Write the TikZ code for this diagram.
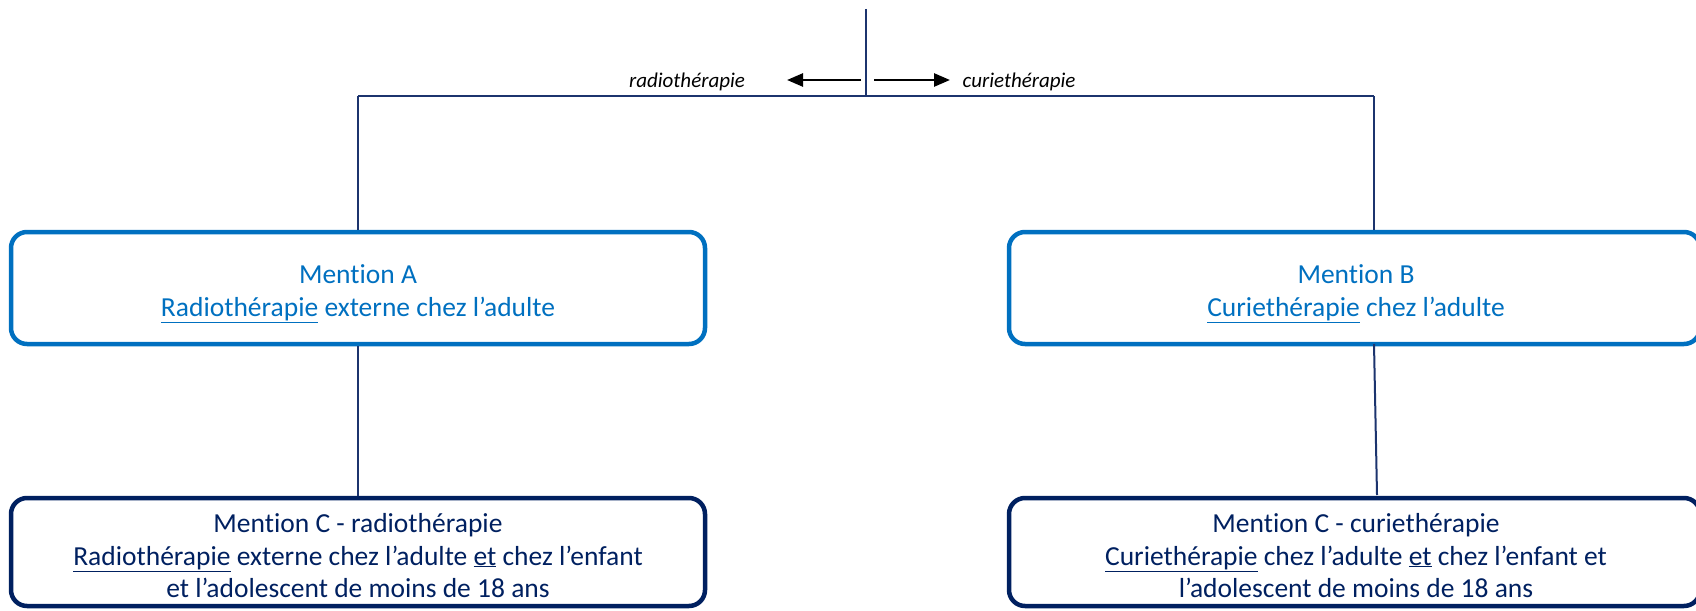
\documentclass[tikz,border=0pt]{standalone}
\usepackage{fontspec}
\setmainfont{Carlito}[Ligatures={NoCommon}]
\usetikzlibrary{arrows.meta,calc}
\definecolor{mblue}{RGB}{0,112,192}
\definecolor{mnavy}{RGB}{0,32,96}
\definecolor{lnavy}{RGB}{28,52,110}
\begin{document}
\begin{tikzpicture}[x=1pt,y=-1pt,
  boxA/.style={draw=mblue,line width=4.5pt,rounded corners=16pt,inner sep=0pt},
  boxC/.style={draw=mnavy,line width=4.5pt,rounded corners=16pt,inner sep=0pt},
  conn/.style={draw=lnavy,line width=2pt},
  arr/.style={draw=black,line width=2.6pt,-{Triangle[length=16pt,width=13pt]}},
  lbl/.style={font=\fontsize{21}{25}\selectfont\itshape,text=black,inner sep=0pt,anchor=base},
  txtA/.style={font=\fontsize{27.5}{33}\selectfont,text=mblue,inner sep=0pt,anchor=base},
  txtC/.style={font=\fontsize{27.5}{33}\selectfont,text=mnavy,inner sep=0pt,anchor=base}]
\useasboundingbox (0,0) rectangle (1696,610);
% boxes
\node[boxA,minimum width=694pt,minimum height=112pt] (A) at (358,288) {};
\node[boxA,minimum width=691pt,minimum height=112pt] (B) at (1354.5,288) {};
\node[boxC,minimum width=694pt,minimum height=108pt] (C) at (358,552) {};
\node[boxC,minimum width=691pt,minimum height=108pt] (D) at (1354.5,552) {};
% texts
\node[txtA] (tA1) at (358,283) {Mention A};
\node[txtA] (tA2) at (358,316) {\underline{Radiothérapie} externe chez l’adulte};
\node[txtA] (tB1) at (1356,283) {Mention B};
\node[txtA] (tB2) at (1356,316) {\underline{Curiethérapie} chez l’adulte};
\node[txtC] (tC1) at (358,532) {Mention C - radiothérapie};
\node[txtC] (tC2) at (358,565) {\underline{Radiothérapie} externe chez l’adulte \underline{et} chez l’enfant};
\node[txtC] (tC3) at (358,597) {et l’adolescent de moins de 18 ans};
\node[txtC] (tD1) at (1356,532) {Mention C - curiethérapie};
\node[txtC] (tD2) at (1356,565) {\underline{Curiethérapie} chez l’adulte \underline{et} chez l’enfant et};
\node[txtC] (tD3) at (1356,597) {l’adolescent de moins de 18 ans};
% connectors
\coordinate (top) at (866,9);
\coordinate (jn) at (866,96);
\coordinate (hl) at (358,96);
\coordinate (hr) at (1374,96);
\coordinate (bs) at (1374,344);
\coordinate (dn) at (1377,495);
\draw[conn] (top) -- (jn);
\draw[conn] (hl) -- (hr);
\draw[conn] (hl) -- (A.north);
\draw[conn] (hr) -- (hr |- B.north);
\draw[conn] (A.south) -- (C.north);
\draw[conn] (bs) -- (dn);
% arrows
\coordinate (la0) at (861,80);
\coordinate (la1) at (787,80);
\coordinate (ra0) at (874,80);
\coordinate (ra1) at (950,80);
\draw[arr] (la0) -- (la1);
\draw[arr] (ra0) -- (ra1);
\node[lbl] (lr) at (687,87) {radiothérapie};
\node[lbl] (lc) at (1019,87) {curiethérapie};
\end{tikzpicture}
\end{document}
